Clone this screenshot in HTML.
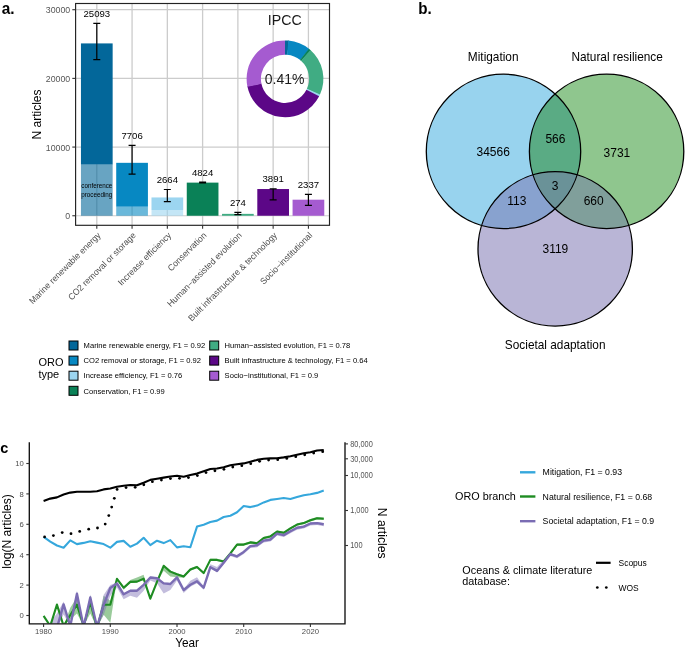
<!DOCTYPE html>
<html><head><meta charset="utf-8"><style>
html,body{margin:0;padding:0;background:#fff;}
body{width:685px;height:648px;overflow:hidden;}
svg{display:block;font-family:"Liberation Sans", sans-serif;will-change:transform;}
</style></head><body>
<svg width="685" height="648" viewBox="0 0 685 648">
<line x1="75.6" y1="215.75" x2="329.5" y2="215.75" stroke="#cccccc" stroke-width="1.2"/>
<line x1="75.6" y1="147.07" x2="329.5" y2="147.07" stroke="#cccccc" stroke-width="1.2"/>
<line x1="75.6" y1="78.39" x2="329.5" y2="78.39" stroke="#cccccc" stroke-width="1.2"/>
<line x1="75.6" y1="9.71" x2="329.5" y2="9.71" stroke="#cccccc" stroke-width="1.2"/>
<line x1="96.80" y1="3.5" x2="96.80" y2="225.3" stroke="#cccccc" stroke-width="1.3"/>
<line x1="132.07" y1="3.5" x2="132.07" y2="225.3" stroke="#cccccc" stroke-width="1.3"/>
<line x1="167.34" y1="3.5" x2="167.34" y2="225.3" stroke="#cccccc" stroke-width="1.3"/>
<line x1="202.61" y1="3.5" x2="202.61" y2="225.3" stroke="#cccccc" stroke-width="1.3"/>
<line x1="237.88" y1="3.5" x2="237.88" y2="225.3" stroke="#cccccc" stroke-width="1.3"/>
<line x1="273.15" y1="3.5" x2="273.15" y2="225.3" stroke="#cccccc" stroke-width="1.3"/>
<line x1="308.42" y1="3.5" x2="308.42" y2="225.3" stroke="#cccccc" stroke-width="1.3"/>
<rect x="80.95" y="43.41" width="31.7" height="121.19" fill="#03679a"/>
<rect x="80.95" y="164.60" width="31.7" height="51.15" fill="#03679a" fill-opacity="0.6"/>
<rect x="116.22" y="162.83" width="31.7" height="43.87" fill="#0788c2"/>
<rect x="116.22" y="206.70" width="31.7" height="9.05" fill="#0788c2" fill-opacity="0.6"/>
<rect x="151.49" y="197.45" width="31.7" height="12.55" fill="#9cd5f0"/>
<rect x="151.49" y="210.00" width="31.7" height="5.75" fill="#9cd5f0" fill-opacity="0.6"/>
<rect x="186.76" y="182.62" width="31.7" height="33.13" fill="#0a8157"/>
<rect x="222.03" y="213.87" width="31.7" height="1.88" fill="#40ac83"/>
<rect x="257.30" y="189.03" width="31.7" height="26.72" fill="#5c0787"/>
<rect x="292.57" y="199.70" width="31.7" height="16.05" fill="#a55bd0"/>
<path d="M285.00,40.40 A38.4,38.4 0 0 1 288.88,40.60 L287.44,54.82 A24.1,24.1 0 0 0 285.00,54.70 Z" fill="#03679a"/>
<path d="M288.35,40.55 A38.4,38.4 0 0 1 309.27,49.04 L300.23,60.12 A24.1,24.1 0 0 0 287.10,54.79 Z" fill="#0788c2"/>
<path d="M308.85,48.71 A38.4,38.4 0 0 1 310.84,50.40 L301.22,60.97 A24.1,24.1 0 0 0 299.97,59.91 Z" fill="#0a8157"/>
<path d="M310.44,50.04 A38.4,38.4 0 0 1 319.80,95.03 L306.84,88.99 A24.1,24.1 0 0 0 300.97,60.75 Z" fill="#40ac83"/>
<path d="M320.03,94.54 A38.4,38.4 0 0 1 318.91,96.83 L306.28,90.11 A24.1,24.1 0 0 0 306.98,88.68 Z" fill="#9cd5f0"/>
<path d="M319.15,96.35 A38.4,38.4 0 0 1 247.34,86.32 L261.37,83.52 A24.1,24.1 0 0 0 306.43,89.82 Z" fill="#5c0787"/>
<path d="M247.45,86.85 A38.4,38.4 0 0 1 285.00,40.40 L285.00,54.70 A24.1,24.1 0 0 0 261.44,83.85 Z" fill="#a55bd0"/>
<text transform="translate(284.80 24.90) scale(1 1.03)" font-size="14.2" text-anchor="middle" fill="#1a1a1a">IPCC</text>
<text transform="translate(284.60 83.80) scale(1 1.03)" font-size="14.0" text-anchor="middle" fill="#1a1a1a">0.41%</text>
<path d="M93.30,23.4 H100.30 M96.80,23.4 V59.6 M93.30,59.6 H100.30" stroke="#000" stroke-width="1.2" fill="none"/>
<text transform="translate(96.80 16.60) scale(1 1.03)" font-size="9.6" text-anchor="middle" fill="#000">25093</text>
<path d="M128.57,145.4 H135.57 M132.07,145.4 V174.2 M128.57,174.2 H135.57" stroke="#000" stroke-width="1.2" fill="none"/>
<text transform="translate(132.07 138.80) scale(1 1.03)" font-size="9.6" text-anchor="middle" fill="#000">7706</text>
<path d="M163.84,189.5 H170.84 M167.34,189.5 V201.6 M163.84,201.6 H170.84" stroke="#000" stroke-width="1.2" fill="none"/>
<text transform="translate(167.34 183.40) scale(1 1.03)" font-size="9.6" text-anchor="middle" fill="#000">2664</text>
<path d="M199.11,182.0 H206.11 M202.61,182.0 V183.0 M199.11,183.0 H206.11" stroke="#000" stroke-width="1.2" fill="none"/>
<text transform="translate(202.61 175.80) scale(1 1.03)" font-size="9.6" text-anchor="middle" fill="#000">4824</text>
<path d="M234.38,212.4 H241.38 M237.88,212.4 V214.6 M234.38,214.6 H241.38" stroke="#000" stroke-width="1.2" fill="none"/>
<text transform="translate(237.88 206.00) scale(1 1.03)" font-size="9.6" text-anchor="middle" fill="#000">274</text>
<path d="M269.65,188.9 H276.65 M273.15,188.9 V199.8 M269.65,199.8 H276.65" stroke="#000" stroke-width="1.2" fill="none"/>
<text transform="translate(273.15 182.30) scale(1 1.03)" font-size="9.6" text-anchor="middle" fill="#000">3891</text>
<path d="M304.92,194.3 H311.92 M308.42,194.3 V205.3 M304.92,205.3 H311.92" stroke="#000" stroke-width="1.2" fill="none"/>
<text transform="translate(308.42 187.60) scale(1 1.03)" font-size="9.6" text-anchor="middle" fill="#000">2337</text>
<text transform="translate(96.80 188.30) scale(1 1.03)" font-size="6.3" text-anchor="middle" fill="#000">conference</text>
<text transform="translate(96.80 197.20) scale(1 1.03)" font-size="6.3" text-anchor="middle" fill="#000">proceeding</text>
<rect x="75.6" y="3.5" width="253.9" height="221.8" fill="none" stroke="#222" stroke-width="1.15"/>
<line x1="72.3" y1="215.75" x2="75.6" y2="215.75" stroke="#333" stroke-width="1.1"/>
<text transform="translate(70.20 219.35) scale(1 1.03)" font-size="8.8" text-anchor="end" fill="#555">0</text>
<line x1="72.3" y1="147.07" x2="75.6" y2="147.07" stroke="#333" stroke-width="1.1"/>
<text transform="translate(70.20 150.67) scale(1 1.03)" font-size="8.8" text-anchor="end" fill="#555">10000</text>
<line x1="72.3" y1="78.39" x2="75.6" y2="78.39" stroke="#333" stroke-width="1.1"/>
<text transform="translate(70.20 81.99) scale(1 1.03)" font-size="8.8" text-anchor="end" fill="#555">20000</text>
<line x1="72.3" y1="9.71" x2="75.6" y2="9.71" stroke="#333" stroke-width="1.1"/>
<text transform="translate(70.20 13.31) scale(1 1.03)" font-size="8.8" text-anchor="end" fill="#555">30000</text>
<line x1="96.80" y1="225.3" x2="96.80" y2="228.70000000000002" stroke="#333" stroke-width="1.1"/>
<text transform="translate(101.20 235.90) rotate(-45) scale(1 1.03)" font-size="8.6" text-anchor="end" fill="#4d4d4d">Marine renewable energy</text>
<line x1="132.07" y1="225.3" x2="132.07" y2="228.70000000000002" stroke="#333" stroke-width="1.1"/>
<text transform="translate(136.47 235.90) rotate(-45) scale(1 1.03)" font-size="8.6" text-anchor="end" fill="#4d4d4d">CO2 removal or storage</text>
<line x1="167.34" y1="225.3" x2="167.34" y2="228.70000000000002" stroke="#333" stroke-width="1.1"/>
<text transform="translate(171.74 235.90) rotate(-45) scale(1 1.03)" font-size="8.6" text-anchor="end" fill="#4d4d4d">Increase efficiency</text>
<line x1="202.61" y1="225.3" x2="202.61" y2="228.70000000000002" stroke="#333" stroke-width="1.1"/>
<text transform="translate(207.01 235.90) rotate(-45) scale(1 1.03)" font-size="8.6" text-anchor="end" fill="#4d4d4d">Conservation</text>
<line x1="237.88" y1="225.3" x2="237.88" y2="228.70000000000002" stroke="#333" stroke-width="1.1"/>
<text transform="translate(242.28 235.90) rotate(-45) scale(1 1.03)" font-size="8.6" text-anchor="end" fill="#4d4d4d">Human−assisted evolution</text>
<line x1="273.15" y1="225.3" x2="273.15" y2="228.70000000000002" stroke="#333" stroke-width="1.1"/>
<text transform="translate(277.55 235.90) rotate(-45) scale(1 1.03)" font-size="8.6" text-anchor="end" fill="#4d4d4d">Built infrastructure &amp; technology</text>
<line x1="308.42" y1="225.3" x2="308.42" y2="228.70000000000002" stroke="#333" stroke-width="1.1"/>
<text transform="translate(312.82 235.90) rotate(-45) scale(1 1.03)" font-size="8.6" text-anchor="end" fill="#4d4d4d">Socio−institutional</text>
<text transform="translate(41.10 114.50) rotate(-90) scale(1 1.03)" font-size="12.0" text-anchor="middle" fill="#000">N articles</text>
<text transform="translate(1.80 14.00) scale(1 1.03)" font-size="15.4" fill="#000" font-weight="bold">a.</text>
<text transform="translate(38.40 366.20) scale(1 1.03)" font-size="11.0" fill="#000">ORO</text>
<text transform="translate(38.40 377.90) scale(1 1.03)" font-size="11.0" fill="#000">type</text>
<rect x="69" y="341.0" width="9" height="9" fill="#03679a" stroke="#000" stroke-width="1"/>
<text transform="translate(83.60 348.20) scale(1 1.03)" font-size="7.6" fill="#000">Marine renewable energy, F1 = 0.92</text>
<rect x="69" y="356.1" width="9" height="9" fill="#0788c2" stroke="#000" stroke-width="1"/>
<text transform="translate(83.60 363.30) scale(1 1.03)" font-size="7.6" fill="#000">CO2 removal or storage, F1 = 0.92</text>
<rect x="69" y="371.2" width="9" height="9" fill="#9cd5f0" stroke="#000" stroke-width="1"/>
<text transform="translate(83.60 378.40) scale(1 1.03)" font-size="7.6" fill="#000">Increase efficiency, F1 = 0.76</text>
<rect x="69" y="386.3" width="9" height="9" fill="#0a8157" stroke="#000" stroke-width="1"/>
<text transform="translate(83.60 393.50) scale(1 1.03)" font-size="7.6" fill="#000">Conservation, F1 = 0.99</text>
<rect x="209.7" y="341.0" width="9" height="9" fill="#40ac83" stroke="#000" stroke-width="1"/>
<text transform="translate(224.60 348.20) scale(1 1.03)" font-size="7.6" fill="#000">Human−assisted evolution, F1 = 0.78</text>
<rect x="209.7" y="356.1" width="9" height="9" fill="#5c0787" stroke="#000" stroke-width="1"/>
<text transform="translate(224.60 363.30) scale(1 1.03)" font-size="7.6" fill="#000">Built infrastructure &amp; technology, F1 = 0.64</text>
<rect x="209.7" y="371.2" width="9" height="9" fill="#a55bd0" stroke="#000" stroke-width="1"/>
<text transform="translate(224.60 378.40) scale(1 1.03)" font-size="7.6" fill="#000">Socio−institutional, F1 = 0.9</text>
<defs><clipPath id="cM"><circle cx="503.5" cy="151.4" r="77.2"/></clipPath><clipPath id="cN"><circle cx="606.6" cy="151.4" r="77.2"/></clipPath><clipPath id="cS"><circle cx="555.2" cy="248.9" r="77.2"/></clipPath><clipPath id="cpc"><rect x="29.3" y="442.3" width="315.7" height="181.1"/></clipPath></defs>
<circle cx="503.5" cy="151.4" r="77.2" fill="#98d3ee"/>
<circle cx="606.6" cy="151.4" r="77.2" fill="#8fc68e"/>
<circle cx="555.2" cy="248.9" r="77.2" fill="#b9b5d6"/>
<g clip-path="url(#cM)"><circle cx="606.6" cy="151.4" r="77.2" fill="#5aab84"/><circle cx="555.2" cy="248.9" r="77.2" fill="#88a2cf"/></g>
<g clip-path="url(#cN)"><circle cx="555.2" cy="248.9" r="77.2" fill="#809f9b"/></g>
<g clip-path="url(#cM)"><g clip-path="url(#cN)"><circle cx="555.2" cy="248.9" r="77.2" fill="#6a9298"/></g></g>
<circle cx="503.5" cy="151.4" r="77.2" fill="none" stroke="#000" stroke-width="1.3"/>
<circle cx="606.6" cy="151.4" r="77.2" fill="none" stroke="#000" stroke-width="1.3"/>
<circle cx="555.2" cy="248.9" r="77.2" fill="none" stroke="#000" stroke-width="1.3"/>
<text transform="translate(493.20 61.30) scale(1 1.03)" font-size="11.85" text-anchor="middle" fill="#000">Mitigation</text>
<text transform="translate(617.10 61.40) scale(1 1.03)" font-size="11.85" text-anchor="middle" fill="#000">Natural resilience</text>
<text transform="translate(555.20 348.80) scale(1 1.03)" font-size="11.85" text-anchor="middle" fill="#000">Societal adaptation</text>
<text transform="translate(493.20 156.40) scale(1 1.03)" font-size="12.0" text-anchor="middle" fill="#000">34566</text>
<text transform="translate(555.40 142.50) scale(1 1.03)" font-size="12.0" text-anchor="middle" fill="#000">566</text>
<text transform="translate(616.90 156.80) scale(1 1.03)" font-size="12.0" text-anchor="middle" fill="#000">3731</text>
<text transform="translate(555.20 189.50) scale(1 1.03)" font-size="12.0" text-anchor="middle" fill="#000">3</text>
<text transform="translate(516.90 204.90) scale(1 1.03)" font-size="12.0" text-anchor="middle" fill="#000">113</text>
<text transform="translate(593.70 204.90) scale(1 1.03)" font-size="12.0" text-anchor="middle" fill="#000">660</text>
<text transform="translate(555.40 253.00) scale(1 1.03)" font-size="12.0" text-anchor="middle" fill="#000">3119</text>
<text transform="translate(418.30 14.20) scale(1 1.03)" font-size="15.2" fill="#000" font-weight="bold">b.</text>
<g clip-path="url(#cpc)">
<polygon points="43.60,615.90 50.27,626.00 56.94,604.60 63.61,626.00 70.28,607.70 76.95,597.20 83.62,626.00 90.29,595.40 96.96,628.00 103.63,595.70 110.30,600.70 116.97,577.80 123.64,586.70 130.31,579.90 136.98,577.60 143.65,574.70 150.32,598.70 156.99,581.90 163.66,564.80 170.33,570.60 177.00,573.30 183.67,575.30 190.34,568.30 197.01,565.80 203.68,571.90 210.35,558.70 217.02,558.70 223.69,560.20 230.36,552.20 237.03,543.40 243.70,543.40 250.37,541.20 257.04,542.10 263.71,536.80 270.38,535.20 277.05,530.40 283.72,531.60 290.39,527.20 297.06,523.40 303.73,521.90 310.40,519.00 317.07,517.00 323.74,517.60 323.74,520.00 317.07,519.40 310.40,521.40 303.73,524.30 297.06,525.80 290.39,529.60 283.72,534.00 277.05,532.80 270.38,537.60 263.71,539.20 257.04,544.50 250.37,543.60 243.70,545.80 237.03,545.80 230.36,554.60 223.69,562.60 217.02,561.10 210.35,561.10 203.68,574.30 197.01,568.20 190.34,570.70 183.67,577.70 177.00,577.30 170.33,576.60 163.66,570.80 156.99,581.90 150.32,598.70 143.65,579.70 136.98,582.60 130.31,582.90 123.64,589.70 116.97,579.80 110.30,622.70 103.63,614.70 96.96,628.00 90.29,613.50 83.62,626.00 76.95,613.50 70.28,619.40 63.61,626.00 56.94,604.60 50.27,626.00 43.60,615.90" fill="#1e8c22" fill-opacity="0.45"/>
<polygon points="43.60,635.00 50.27,622.30 56.94,613.50 63.61,601.40 70.28,626.00 76.95,590.80 83.62,627.00 90.29,594.40 96.96,627.00 103.63,595.00 110.30,585.00 116.97,582.40 123.64,593.30 130.31,589.70 136.98,589.70 143.65,583.80 150.32,576.50 156.99,577.20 163.66,582.40 170.33,583.00 177.00,576.40 183.67,589.00 190.34,580.70 197.01,577.30 203.68,586.70 210.35,564.20 217.02,566.90 223.69,559.80 230.36,553.10 237.03,555.30 243.70,550.90 250.37,545.10 257.04,544.30 263.71,539.60 270.38,538.50 277.05,532.60 283.72,534.10 290.39,530.30 297.06,526.80 303.73,525.60 310.40,522.50 317.07,522.10 323.74,523.30 323.74,526.30 317.07,525.10 310.40,525.50 303.73,528.60 297.06,529.80 290.39,533.30 283.72,537.10 277.05,535.60 270.38,541.50 263.71,542.60 257.04,547.30 250.37,548.10 243.70,553.90 237.03,558.30 230.36,556.10 223.69,563.80 217.02,571.90 210.35,568.20 203.68,589.70 197.01,583.30 190.34,586.70 183.67,593.00 177.00,580.40 170.33,590.00 163.66,593.40 156.99,583.20 150.32,580.50 143.65,590.80 136.98,597.70 130.31,595.70 123.64,599.30 116.97,587.40 110.30,596.00 103.63,615.00 96.96,627.00 90.29,605.40 83.62,627.00 76.95,601.80 70.28,626.00 63.61,614.40 56.94,628.00 50.27,635.00 43.60,635.00" fill="#7a6cb3" fill-opacity="0.45"/>
<polyline points="43.60,536.80 50.27,541.60 56.94,545.50 63.61,547.70 70.28,540.40 76.95,544.10 83.62,542.90 90.29,541.20 96.96,542.60 103.63,544.10 110.30,547.70 116.97,541.90 123.64,540.90 130.31,546.70 136.98,543.60 143.65,537.80 150.32,545.10 156.99,540.70 163.66,543.10 170.33,540.10 177.00,547.40 183.67,546.30 190.34,547.30 197.01,526.60 203.68,524.70 210.35,522.00 217.02,520.60 223.69,517.00 230.36,515.70 237.03,512.30 243.70,506.00 250.37,507.10 257.04,505.60 263.71,502.40 270.38,499.90 277.05,499.00 283.72,498.00 290.39,499.00 297.06,497.10 303.73,495.20 310.40,494.20 317.07,492.90 323.74,490.40" fill="none" stroke="#35a7dc" stroke-width="2.1" stroke-linejoin="round"/>
<polyline points="43.60,615.90 50.27,626.00 56.94,604.60 63.61,626.00 70.28,615.00 76.95,604.60 83.62,626.00 90.29,602.00 96.96,628.00 103.63,604.70 110.30,604.70 116.97,578.80 123.64,587.70 130.31,581.90 136.98,581.60 143.65,578.70 150.32,598.70 156.99,581.90 163.66,565.80 170.33,571.60 177.00,574.30 183.67,576.50 190.34,569.50 197.01,567.00 203.68,573.10 210.35,559.90 217.02,559.90 223.69,561.40 230.36,553.40 237.03,544.60 243.70,544.60 250.37,542.40 257.04,543.30 263.71,538.00 270.38,536.40 277.05,531.60 283.72,532.80 290.39,528.40 297.06,524.60 303.73,523.10 310.40,520.20 317.07,518.20 323.74,518.80" fill="none" stroke="#1e8c22" stroke-width="2.1" stroke-linejoin="round"/>
<polyline points="43.60,635.00 50.27,635.00 56.94,628.00 63.61,604.40 70.28,626.00 76.95,593.80 83.62,627.00 90.29,597.40 96.96,627.00 103.63,605.00 110.30,588.00 116.97,583.40 123.64,594.30 130.31,590.70 136.98,590.70 143.65,584.80 150.32,577.50 156.99,578.20 163.66,583.40 170.33,584.00 177.00,577.40 183.67,590.00 190.34,584.70 197.01,581.30 203.68,587.70 210.35,567.20 217.02,570.90 223.69,562.80 230.36,554.10 237.03,556.30 243.70,551.90 250.37,546.10 257.04,545.30 263.71,540.60 270.38,539.50 277.05,533.60 283.72,535.10 290.39,531.30 297.06,527.80 303.73,526.60 310.40,523.50 317.07,523.10 323.74,524.30" fill="none" stroke="#7a6cb3" stroke-width="2.4" stroke-linejoin="round"/>
<polyline points="43.60,501.00 50.27,498.60 56.94,497.40 63.61,494.50 70.28,492.60 76.95,491.70 83.62,491.80 90.29,491.80 96.96,491.20 103.63,489.40 110.30,488.50 116.97,486.70 123.64,485.80 130.31,485.00 136.98,485.30 143.65,482.70 150.32,479.90 156.99,478.70 163.66,477.60 170.33,476.50 177.00,475.80 183.67,476.80 190.34,475.00 197.01,473.60 203.68,471.20 210.35,469.00 217.02,468.50 223.69,467.30 230.36,465.30 237.03,464.20 243.70,463.40 250.37,461.70 257.04,459.90 263.71,458.70 270.38,458.40 277.05,458.20 283.72,457.40 290.39,456.20 297.06,454.80 303.73,453.30 310.40,452.30 317.07,450.50 323.74,450.00" fill="none" stroke="#000" stroke-width="2.1" stroke-linejoin="round"/>
<circle cx="44.60" cy="536.90" r="1.4" fill="#000"/>
<circle cx="53.40" cy="535.60" r="1.4" fill="#000"/>
<circle cx="62.20" cy="532.60" r="1.4" fill="#000"/>
<circle cx="71.00" cy="533.70" r="1.4" fill="#000"/>
<circle cx="79.70" cy="531.40" r="1.4" fill="#000"/>
<circle cx="88.70" cy="529.20" r="1.4" fill="#000"/>
<circle cx="97.50" cy="528.00" r="1.4" fill="#000"/>
<circle cx="105.20" cy="524.10" r="1.4" fill="#000"/>
<circle cx="108.80" cy="515.60" r="1.4" fill="#000"/>
<circle cx="111.70" cy="507.10" r="1.4" fill="#000"/>
<circle cx="114.30" cy="498.30" r="1.4" fill="#000"/>
<circle cx="117.10" cy="489.40" r="1.4" fill="#000"/>
<circle cx="126.06" cy="487.61" r="1.4" fill="#000"/>
<circle cx="135.18" cy="487.32" r="1.4" fill="#000"/>
<circle cx="143.82" cy="484.73" r="1.4" fill="#000"/>
<circle cx="152.39" cy="481.63" r="1.4" fill="#000"/>
<circle cx="161.41" cy="480.07" r="1.4" fill="#000"/>
<circle cx="170.44" cy="478.59" r="1.4" fill="#000"/>
<circle cx="179.52" cy="478.28" r="1.4" fill="#000"/>
<circle cx="188.45" cy="477.61" r="1.4" fill="#000"/>
<circle cx="197.37" cy="475.57" r="1.4" fill="#000"/>
<circle cx="206.00" cy="472.54" r="1.4" fill="#000"/>
<circle cx="214.91" cy="470.76" r="1.4" fill="#000"/>
<circle cx="223.93" cy="469.33" r="1.4" fill="#000"/>
<circle cx="232.77" cy="467.00" r="1.4" fill="#000"/>
<circle cx="241.82" cy="465.72" r="1.4" fill="#000"/>
<circle cx="250.74" cy="463.70" r="1.4" fill="#000"/>
<circle cx="259.58" cy="461.35" r="1.4" fill="#000"/>
<circle cx="268.59" cy="460.08" r="1.4" fill="#000"/>
<circle cx="277.73" cy="459.72" r="1.4" fill="#000"/>
<circle cx="286.79" cy="458.45" r="1.4" fill="#000"/>
<circle cx="295.76" cy="456.67" r="1.4" fill="#000"/>
<circle cx="304.71" cy="454.75" r="1.4" fill="#000"/>
<circle cx="313.68" cy="453.02" r="1.4" fill="#000"/>
<circle cx="322.69" cy="451.68" r="1.4" fill="#000"/>
</g>
<path d="M29.3,442.3 V623.8 H345.0 V442.3" fill="none" stroke="#111" stroke-width="1.35"/>
<line x1="26.3" y1="615.50" x2="29.3" y2="615.50" stroke="#333" stroke-width="1.1"/>
<text transform="translate(23.80 618.30) scale(1 1.03)" font-size="7.7" text-anchor="end" fill="#4d4d4d">0</text>
<line x1="26.3" y1="585.10" x2="29.3" y2="585.10" stroke="#333" stroke-width="1.1"/>
<text transform="translate(23.80 587.90) scale(1 1.03)" font-size="7.7" text-anchor="end" fill="#4d4d4d">2</text>
<line x1="26.3" y1="554.70" x2="29.3" y2="554.70" stroke="#333" stroke-width="1.1"/>
<text transform="translate(23.80 557.50) scale(1 1.03)" font-size="7.7" text-anchor="end" fill="#4d4d4d">4</text>
<line x1="26.3" y1="524.30" x2="29.3" y2="524.30" stroke="#333" stroke-width="1.1"/>
<text transform="translate(23.80 527.10) scale(1 1.03)" font-size="7.7" text-anchor="end" fill="#4d4d4d">6</text>
<line x1="26.3" y1="493.90" x2="29.3" y2="493.90" stroke="#333" stroke-width="1.1"/>
<text transform="translate(23.80 496.70) scale(1 1.03)" font-size="7.7" text-anchor="end" fill="#4d4d4d">8</text>
<line x1="26.3" y1="463.50" x2="29.3" y2="463.50" stroke="#333" stroke-width="1.1"/>
<text transform="translate(23.80 466.30) scale(1 1.03)" font-size="7.7" text-anchor="end" fill="#4d4d4d">10</text>
<line x1="345.0" y1="545.50" x2="348.0" y2="545.50" stroke="#333" stroke-width="1.1"/>
<text transform="translate(350.20 548.45) scale(1 1.12)" font-size="7.4" fill="#555">100</text>
<line x1="345.0" y1="510.50" x2="348.0" y2="510.50" stroke="#333" stroke-width="1.1"/>
<text transform="translate(350.20 513.45) scale(1 1.12)" font-size="7.4" fill="#555">1,000</text>
<line x1="345.0" y1="475.50" x2="348.0" y2="475.50" stroke="#333" stroke-width="1.1"/>
<text transform="translate(350.20 478.45) scale(1 1.12)" font-size="7.4" fill="#555">10,000</text>
<line x1="345.0" y1="458.80" x2="348.0" y2="458.80" stroke="#333" stroke-width="1.1"/>
<text transform="translate(350.20 461.75) scale(1 1.12)" font-size="7.4" fill="#555">30,000</text>
<line x1="345.0" y1="443.90" x2="348.0" y2="443.90" stroke="#333" stroke-width="1.1"/>
<text transform="translate(350.20 446.85) scale(1 1.12)" font-size="7.4" fill="#555">80,000</text>
<line x1="43.60" y1="623.8" x2="43.60" y2="627.0" stroke="#333" stroke-width="1.1"/>
<text transform="translate(43.60 634.00) scale(1 1.03)" font-size="7.7" text-anchor="middle" fill="#4d4d4d">1980</text>
<line x1="110.30" y1="623.8" x2="110.30" y2="627.0" stroke="#333" stroke-width="1.1"/>
<text transform="translate(110.30 634.00) scale(1 1.03)" font-size="7.7" text-anchor="middle" fill="#4d4d4d">1990</text>
<line x1="177.00" y1="623.8" x2="177.00" y2="627.0" stroke="#333" stroke-width="1.1"/>
<text transform="translate(177.00 634.00) scale(1 1.03)" font-size="7.7" text-anchor="middle" fill="#4d4d4d">2000</text>
<line x1="243.70" y1="623.8" x2="243.70" y2="627.0" stroke="#333" stroke-width="1.1"/>
<text transform="translate(243.70 634.00) scale(1 1.03)" font-size="7.7" text-anchor="middle" fill="#4d4d4d">2010</text>
<line x1="310.40" y1="623.8" x2="310.40" y2="627.0" stroke="#333" stroke-width="1.1"/>
<text transform="translate(310.40 634.00) scale(1 1.03)" font-size="7.7" text-anchor="middle" fill="#4d4d4d">2020</text>
<text transform="translate(187.10 647.20) scale(1 1.03)" font-size="11.8" text-anchor="middle" fill="#000">Year</text>
<text transform="translate(10.80 531.40) rotate(-90) scale(1 1.03)" font-size="12.1" text-anchor="middle" fill="#000">log(N articles)</text>
<text transform="translate(378.00 533.20) rotate(90) scale(1 1.03)" font-size="12.2" text-anchor="middle" fill="#000">N articles</text>
<text transform="translate(0.30 452.80) scale(1 1.03)" font-size="14.5" fill="#000" font-weight="bold">c</text>
<text transform="translate(455.00 500.30) scale(1 1.03)" font-size="10.85" fill="#000">ORO branch</text>
<line x1="520" y1="472.3" x2="535.4" y2="472.3" stroke="#35a7dc" stroke-width="2.4"/>
<text transform="translate(542.60 475.40) scale(1 1.03)" font-size="8.75" fill="#000">Mitigation, F1 = 0.93</text>
<line x1="520" y1="496.5" x2="535.4" y2="496.5" stroke="#1e8c22" stroke-width="2.4"/>
<text transform="translate(542.60 499.60) scale(1 1.03)" font-size="8.75" fill="#000">Natural resilience, F1 = 0.68</text>
<line x1="520" y1="521.2" x2="535.4" y2="521.2" stroke="#7a6cb3" stroke-width="2.4"/>
<text transform="translate(542.60 524.30) scale(1 1.03)" font-size="8.75" fill="#000">Societal adaptation, F1 = 0.9</text>
<text transform="translate(462.30 574.20) scale(1 1.03)" font-size="10.85" fill="#000">Oceans &amp; climate literature</text>
<text transform="translate(462.30 584.60) scale(1 1.03)" font-size="10.85" fill="#000">database:</text>
<line x1="596" y1="562.8" x2="610.6" y2="562.8" stroke="#000" stroke-width="2.2"/>
<circle cx="597.3" cy="587.5" r="1.35" fill="#000"/>
<circle cx="606.3" cy="587.5" r="1.35" fill="#000"/>
<text transform="translate(618.50 565.90) scale(1 1.03)" font-size="8.5" fill="#000">Scopus</text>
<text transform="translate(618.50 590.90) scale(1 1.03)" font-size="8.5" fill="#000">WOS</text>
</svg>
</body></html>
